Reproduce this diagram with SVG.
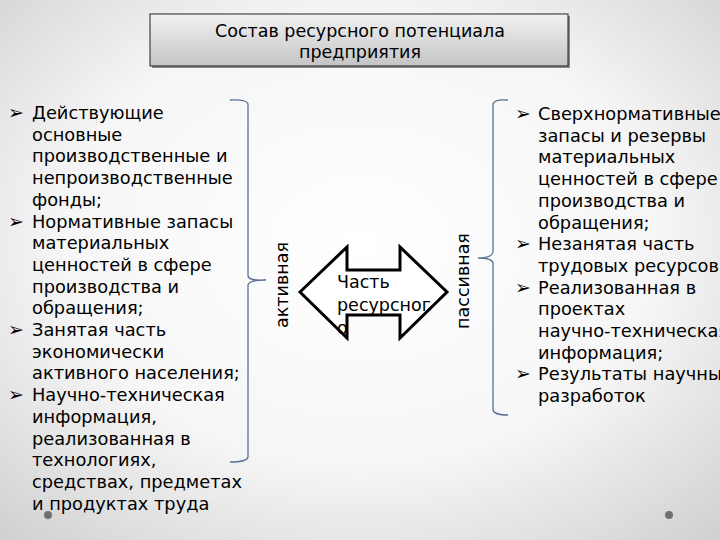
<svg xmlns="http://www.w3.org/2000/svg" width="720" height="540" viewBox="0 0 720 540">
<defs>
<radialGradient id="bg" cx="0.5" cy="0.45" r="0.75">
<stop offset="0" stop-color="#ffffff"/>
<stop offset="0.55" stop-color="#f6f6f6"/>
<stop offset="1" stop-color="#cfcfcf"/>
</radialGradient>
<linearGradient id="tg" x1="0" y1="0" x2="0" y2="1">
<stop offset="0" stop-color="#f2f2f2"/>
<stop offset="1" stop-color="#c4c4c4"/>
</linearGradient>
<path id="dbl" d="M300 292 L347 247 L347 270 L400 270 L400 247 L447 292 L400 338 L400 315 L347 315 L347 338 Z"/>
<style>
.t{font-family:"DejaVu Sans",sans-serif;fill:#000}
.l{font-size:17.8px}
.b{font-size:19px}
.br{fill:none;stroke:#5a7196;stroke-width:1.3}
</style>
</defs>
<rect width="720" height="540" fill="url(#bg)"/>
<circle cx="48" cy="515" r="4" fill="#707070"/>
<circle cx="669" cy="515" r="4" fill="#707070"/>
<g id="title">
<rect x="152" y="16" width="418" height="52" fill="#8a8a8a"/>
<rect x="150" y="14" width="418" height="52" fill="url(#tg)" stroke="#222" stroke-width="1"/>
<text class="t" x="360" y="37" font-size="17.5" text-anchor="middle">Состав ресурсного потенциала</text>
<text class="t" x="360" y="58" font-size="17.5" text-anchor="middle">предприятия</text>
</g>
<g id="left-list" class="t l">
<text class="b" x="8" y="119">➢</text>
<text x="32" y="119">Действующие</text>
<text x="32" y="140.7">основные</text>
<text x="32" y="162.4">производственные и</text>
<text x="32" y="184.1">непроизводственные</text>
<text x="32" y="205.8">фонды;</text>
<text class="b" x="8" y="227.5">➢</text>
<text x="32" y="227.5">Нормативные запасы</text>
<text x="32" y="249.2">материальных</text>
<text x="32" y="270.9">ценностей в сфере</text>
<text x="32" y="292.6">производства и</text>
<text x="32" y="314.3">обращения;</text>
<text class="b" x="8" y="336">➢</text>
<text x="32" y="336">Занятая часть</text>
<text x="32" y="357.7">экономически</text>
<text x="32" y="379.4">активного населения;</text>
<text class="b" x="8" y="401.1">➢</text>
<text x="32" y="401.1">Научно-техническая</text>
<text x="32" y="422.8">информация,</text>
<text x="32" y="444.5">реализованная в</text>
<text x="32" y="466.2">технологиях,</text>
<text x="32" y="487.9">средствах, предметах</text>
<text x="32" y="509.6">и продуктах труда</text>
</g>
<g id="right-list" class="t l">
<text class="b" x="515" y="120">➢</text>
<text x="538" y="120">Сверхнормативные</text>
<text x="538" y="141.7">запасы и резервы</text>
<text x="538" y="163.4">материальных</text>
<text x="538" y="185.1">ценностей в сфере</text>
<text x="538" y="206.8">производства и</text>
<text x="538" y="228.5">обращения;</text>
<text class="b" x="515" y="250.2">➢</text>
<text x="538" y="250.2">Незанятая часть</text>
<text x="538" y="271.9">трудовых ресурсов</text>
<text class="b" x="515" y="293.6">➢</text>
<text x="538" y="293.6">Реализованная в</text>
<text x="538" y="315.3">проектах</text>
<text x="538" y="337">научно-техническая</text>
<text x="538" y="358.7">информация;</text>
<text class="b" x="515" y="380.4">➢</text>
<text x="538" y="380.4">Результаты научных</text>
<text x="538" y="402.1">разработок</text>
</g>
<g id="connectors">
<path class="br" d="M230 100 Q247 99 248 104 L248 276 Q249 281 266 280 Q249 280 248 285 L248 457 Q247 462 230 462"/>
<path class="br" d="M508 100 Q494 99 493 104 L493 252 Q492 258 478 258 Q492 258 493 263 L493 410 Q494 415 508 415"/>
</g>
<g id="label-active">
<text class="t" font-size="17.5" transform="translate(288 285) rotate(-90)" text-anchor="middle">активная</text>
</g>
<g id="label-passive">
<text class="t" font-size="17.5" transform="translate(469 281) rotate(-90)" text-anchor="middle">пассивная</text>
</g>
<g id="arrow">
<use href="#dbl" fill="#fff" stroke="none"/>
<text class="t" font-size="17.5" x="337" y="288">Часть</text>
<text class="t" font-size="17.5" x="337" y="311">ресурсног</text>
<text class="t" font-size="17.5" x="337" y="334">о</text>
<use href="#dbl" fill="none" stroke="#000" stroke-width="3" stroke-linejoin="miter"/>
</g>
</svg>
